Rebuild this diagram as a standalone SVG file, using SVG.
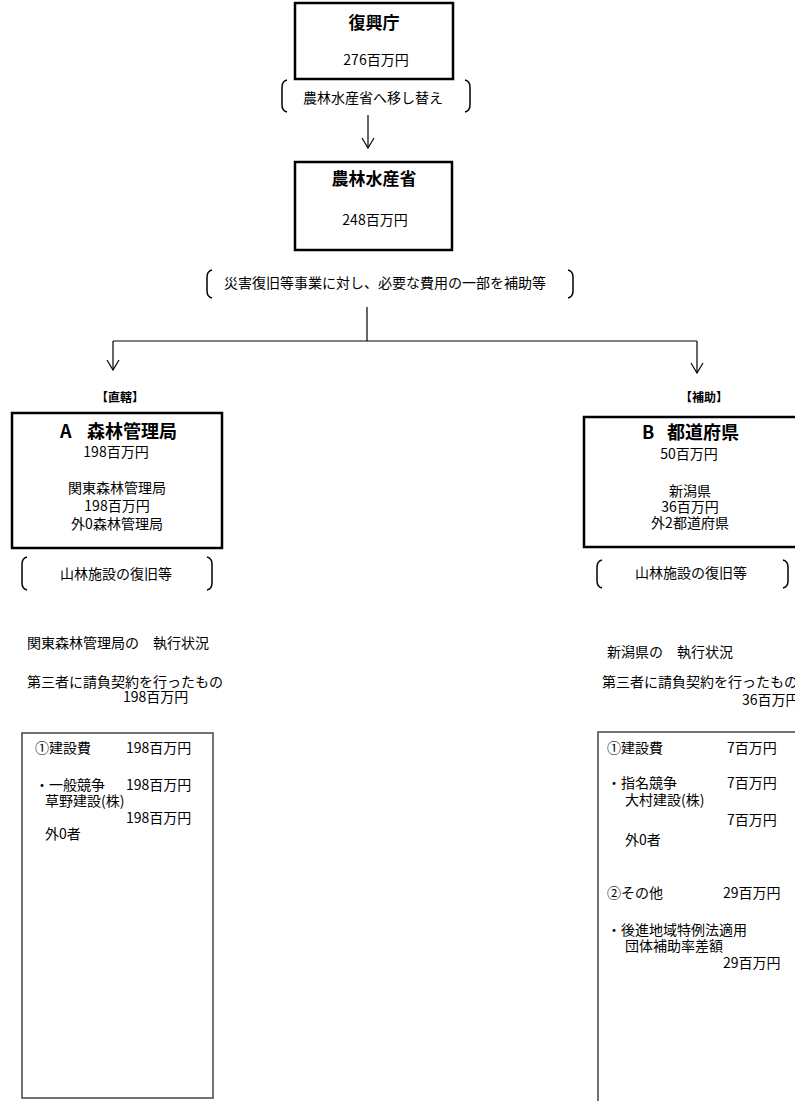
<svg xmlns="http://www.w3.org/2000/svg" width="795" height="1101" viewBox="0 0 795 1101">
<style>
text{font-family:"Noto Sans CJK JP","Noto Sans CJK SC",sans-serif;font-size:14px;fill:#000}
.t{font-size:17px;font-weight:bold}
.t2{font-size:18px;font-weight:bold}
.h{font-size:12px;font-weight:bold}
.c{text-anchor:middle}
.box{fill:#fff;stroke:#000;stroke-width:2.5}
.lbox{fill:none;stroke:#444;stroke-width:1.5}
.br{fill:none;stroke:#000;stroke-width:1.5}
.ln{fill:none;stroke:#000;stroke-width:1.2}
</style>
<defs>
<marker id="ah" viewBox="0 0 12 14" refX="11" refY="7" markerWidth="12" markerHeight="14" markerUnits="userSpaceOnUse" orient="auto">
<path d="M1,1 L11,7 L1,13" fill="none" stroke="#000" stroke-width="1.2"/>
</marker>
</defs>
<g id="connectors">
<line class="ln" x1="368" y1="115" x2="368" y2="148" marker-end="url(#ah)"/>
<path class="ln" d="M367,307 L367,341"/>
<path class="ln" d="M113,341 L697,341"/>
<line class="ln" x1="113" y1="341" x2="113" y2="370" marker-end="url(#ah)"/>
<line class="ln" x1="697" y1="341" x2="697" y2="373" marker-end="url(#ah)"/>
</g>
<g id="fukkocho">
<rect class="box" x="295" y="3" width="158" height="76"/>
<text class="t c" x="374" y="29">復興庁</text>
<text class="c" x="376" y="65">276百万円</text>
</g>
<g id="note-transfer">
<path class="br" d="M287,80 C283,81 282,83 282,87 L282,105 C282,109 283,111 287,112"/>
<path class="br" d="M465,80 C469,81 470,83 470,87 L470,105 C470,109 469,111 465,112"/>
<text class="c" x="373" y="103">農林水産省へ移し替え</text>
</g>
<g id="maff">
<rect class="box" x="295" y="162" width="157" height="88"/>
<text class="t c" x="374" y="185">農林水産省</text>
<text class="c" x="375" y="225">248百万円</text>
</g>
<g id="note-subsidy">
<path class="br" d="M212,270 C208,271 207,273 207,277 L207,291 C207,295 208,297 212,298"/>
<path class="br" d="M568,270 C572,271 573,273 573,277 L573,291 C573,295 572,297 568,298"/>
<text class="c" x="385" y="288">災害復旧等事業に対し、必要な費用の一部を補助等</text>
</g>
<g id="node-a">
<text class="h c" x="120" y="402">【直轄】</text>
<rect class="box" x="12" y="413" width="210" height="135"/>
<text class="t2"><tspan x="60" y="438">A</tspan><tspan x="87" y="438">森林管理局</tspan></text>
<text class="c" x="116" y="457">198百万円</text>
<text class="c" x="117" y="493">関東森林管理局</text>
<text class="c" x="117" y="511">198百万円</text>
<text class="c" x="117" y="529">外0森林管理局</text>
</g>
<g id="note-a">
<path class="br" d="M27,557 C23,558 22,560 22,564 L22,583 C22,587 23,589 27,590"/>
<path class="br" d="M207,557 C211,558 212,560 212,564 L212,583 C212,587 211,589 207,590"/>
<text class="c" x="116" y="579">山林施設の復旧等</text>
</g>
<g id="exec-a">
<text x="27" y="648">関東森林管理局の　執行状況</text>
<text x="27" y="687">第三者に請負契約を行ったもの</text>
<text x="123" y="702">198百万円</text>
</g>
<g id="detail-a">
<rect class="lbox" x="22" y="733" width="191" height="365"/>
<text x="35" y="753">①建設費</text>
<text x="126" y="753">198百万円</text>
<text x="35" y="790">・一般競争</text>
<text x="126" y="790">198百万円</text>
<text x="45" y="806">草野建設(株)</text>
<text x="126" y="823">198百万円</text>
<text x="45" y="839">外0者</text>
</g>
<g id="node-b">
<text class="h c" x="704" y="402">【補助】</text>
<rect class="box" x="584" y="417" width="220" height="130"/>
<text class="t2"><tspan x="642" y="439">B</tspan><tspan x="667" y="439">都道府県</tspan></text>
<text class="c" x="689" y="459">50百万円</text>
<text class="c" x="690" y="496">新潟県</text>
<text class="c" x="690" y="512">36百万円</text>
<text class="c" x="690" y="528">外2都道府県</text>
</g>
<g id="note-b">
<path class="br" d="M602,560 C598,561 597,563 597,567 L597,581 C597,585 598,587 602,588"/>
<path class="br" d="M783,560 C787,561 788,563 788,567 L788,581 C788,585 787,587 783,588"/>
<text class="c" x="691" y="578">山林施設の復旧等</text>
</g>
<g id="exec-b">
<text x="607" y="657">新潟県の　執行状況</text>
<text x="602" y="687">第三者に請負契約を行ったもの</text>
<text x="742" y="705">36百万円</text>
</g>
<g id="detail-b">
<rect class="lbox" x="598" y="732" width="220" height="380"/>
<text x="607" y="753">①建設費</text>
<text x="727" y="753">7百万円</text>
<text x="607" y="788">・指名競争</text>
<text x="727" y="788">7百万円</text>
<text x="625" y="805">大村建設(株)</text>
<text x="727" y="825">7百万円</text>
<text x="625" y="845">外0者</text>
<text x="607" y="898">②その他</text>
<text x="723" y="898">29百万円</text>
<text x="607" y="935">・後進地域特例法適用</text>
<text x="625" y="951">団体補助率差額</text>
<text x="723" y="968">29百万円</text>
</g>
</svg>
